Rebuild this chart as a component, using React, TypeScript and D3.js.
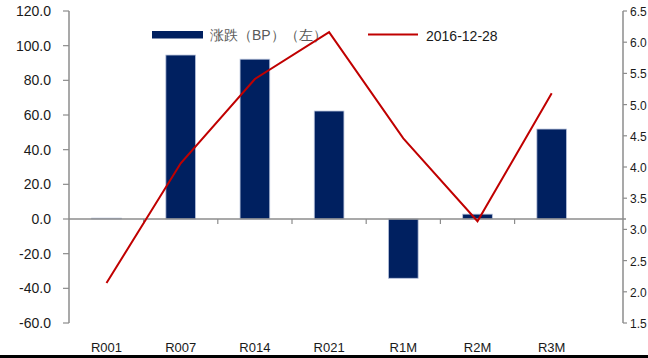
import React from "react";
import * as d3 from "d3";

const categories = ["R001", "R007", "R014", "R021", "R1M", "R2M", "R3M"];
const changeBP = [0.5, 94.6, 92.2, 62.3, -34.2, 2.8, 51.9];
const rate20161228 = [2.14, 4.06, 5.41, 6.16, 4.46, 3.13, 5.18];
const leftTicks = [120, 100, 80, 60, 40, 20, 0, -20, -40, -60];
const rightTicks = [6.5, 6.0, 5.5, 5.0, 4.5, 4.0, 3.5, 3.0, 2.5, 2.0, 1.5];
const legendBar = "涨跌（BP）（左）";
const legendLine = "2016-12-28";

const W = 648;
const H = 358;
const font = "'Liberation Sans', Arial, sans-serif";
const axisColor = "#8c8c8c";

export default function App() {
  const plotLeft = 69;
  const plotRight = 623;
  const top = 11;
  const bottom = 323;
  const yL = d3.scaleLinear().domain([-60, 120]).range([bottom, top]);
  const yR = d3.scaleLinear().domain([1.5, 6.5]).range([bottom, top]);
  const x = d3
    .scaleBand<string>()
    .domain(categories)
    .range([69.4, 588.8])
    .paddingInner(0.6)
    .paddingOuter(0.3);
  const step = x.step();
  const cx = (c: string) => (x(c) as number) + x.bandwidth() / 2;
  const bandStart = 69.4;
  const y0 = yL(0);

  const line = d3
    .line<number>()
    .x((_, i) => cx(categories[i]))
    .y((v) => yR(v));

  return (
    <svg
      width={W}
      height={H}
      style={{ position: "absolute", left: 0, top: 0, background: "#fff" }}
    >
      <rect x={0} y={0} width={W} height={H} fill="#fff" />
      {/* bars */}
      {categories.map((c, i) => {
        const v = changeBP[i];
        const ya = yL(Math.max(0, v));
        const yb = yL(Math.min(0, v));
        return (
          <rect
            key={c}
            x={x(c)}
            y={ya}
            width={x.bandwidth()}
            height={Math.max(yb - ya, 0.5)}
            fill="#002060"
            stroke="#b9c4dc"
            strokeWidth={0.8}
          />
        );
      })}
      {/* category axis */}
      <line x1={plotLeft} x2={plotRight + 3} y1={y0} y2={y0} stroke={axisColor} strokeWidth={1.5} />
      {categories.slice(1).map((c, i) => {
        const xx = bandStart + step * (i + 1);
        return <line key={c} x1={xx} x2={xx} y1={y0} y2={y0 + 5} stroke={axisColor} strokeWidth={1.2} />;
      })}
      {/* left axis */}
      <line x1={plotLeft} x2={plotLeft} y1={top} y2={bottom} stroke={axisColor} strokeWidth={1.5} />
      {leftTicks.map((t) => (
        <g key={t}>
          <line x1={plotLeft - 6} x2={plotLeft} y1={yL(t)} y2={yL(t)} stroke={axisColor} strokeWidth={1.2} />
          <text
            x={51}
            y={yL(t) + 5}
            textAnchor="end"
            fontFamily={font}
            fontSize={14}
            fill="#1a1a1a"
          >
            {t.toFixed(1)}
          </text>
        </g>
      ))}
      {/* right axis */}
      <line x1={plotRight} x2={plotRight} y1={top} y2={bottom} stroke={axisColor} strokeWidth={1.5} />
      {rightTicks.map((t) => (
        <g key={t}>
          <line x1={plotRight} x2={plotRight + 4} y1={yR(t)} y2={yR(t)} stroke={axisColor} strokeWidth={1.2} />
          <text x={630} y={yR(t) + 5} fontFamily={font} fontSize={12} fill="#1a1a1a">
            {t.toFixed(1)}
          </text>
        </g>
      ))}
      {/* category labels */}
      {categories.map((c) => (
        <text
          key={c}
          x={cx(c)}
          y={352}
          textAnchor="middle"
          fontFamily={font}
          fontSize={13}
          fill="#1a1a1a"
        >
          {c}
        </text>
      ))}
      {/* legend */}
      <rect x={152} y={31} width={51} height={7.5} fill="#002060" />
      <text x={210} y={40} fontFamily={font} fontSize={14} fill="#595959">
        {legendBar}
      </text>
      <line x1={368} x2={418} y1={34.5} y2={34.5} stroke="#c00000" strokeWidth={2} />
      <text x={426} y={40.5} fontFamily={font} fontSize={14} fill="#1a1a1a">
        {legendLine}
      </text>
      {/* line */}
      <path d={line(rate20161228) || ""} fill="none" stroke="#c00000" strokeWidth={2} />
      {/* bottom border */}
      <rect x={0} y={355} width={W} height={3} fill="#000" />
    </svg>
  );
}
